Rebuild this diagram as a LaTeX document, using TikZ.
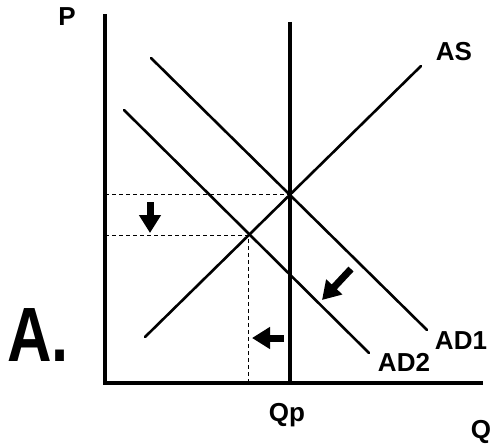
\documentclass[tikz,border=0pt]{standalone}
\usepackage{fontspec}
\setmainfont{Liberation Sans}
\usetikzlibrary{arrows.meta}
\begin{document}
\begin{tikzpicture}[x=1pt,y=-1pt,
  axis/.style={line width=4pt,line cap=rect},
  curve/.style={line width=2.6pt,line cap=round},
  guide/.style={line width=1pt,dash pattern=on 4pt off 3pt},
  shiftarrow/.style={line width=7pt,-{Triangle[width=21pt,length=18pt]}},
  lbl/.style={font=\fontsize{26}{26}\selectfont\bfseries,anchor=base,inner sep=0pt}]
\useasboundingbox (0,0) rectangle (495,444);
% axes
\coordinate (o) at (105,383);
\coordinate (ytop) at (105,16);
\coordinate (xend) at (481,383);
\draw[axis] (ytop) -- (o) -- (xend);
% potential output line
\coordinate (qtop) at (290,22);
\coordinate (qbot) at (290,383);
\draw[axis,line cap=butt] (qtop) -- (qbot);
% curves
\coordinate (as1) at (145,337);
\coordinate (as2) at (421,66);
\draw[curve] (as1) -- (as2);
\coordinate (ad11) at (151,58);
\coordinate (ad12) at (427,330);
\draw[curve] (ad11) -- (ad12);
\coordinate (ad21) at (124,110);
\coordinate (ad22) at (369,353);
\draw[curve] (ad21) -- (ad22);
% equilibria
\coordinate (e1) at (290,194);
\coordinate (e2) at (248,235);
\coordinate (p1) at (105,194);
\coordinate (p2) at (105,235);
\coordinate (q2) at (248,383);
\draw[guide] (p1) -- (e1);
\draw[guide] (p2) -- (e2) -- (q2);
% shift arrows
\coordinate (da1) at (150,202);
\coordinate (da2) at (150,233);
\draw[shiftarrow] (da1) -- (da2);
\coordinate (la1) at (284,338);
\coordinate (la2) at (252,338);
\draw[shiftarrow] (la1) -- (la2);
\coordinate (ga1) at (351,269);
\coordinate (ga2) at (322,300);
\draw[shiftarrow] (ga1) -- (ga2);
% labels
\node[lbl] (lP) at (67,26) {P};
\node[lbl] (lAS) at (454,60) {AS};
\node[lbl] (lAD1) at (461,349) {AD1};
\node[lbl] (lAD2) at (404,371) {AD2};
\node[lbl] (lQp) at (287,421) {Qp};
\node[lbl] (lQ) at (481,438) {Q};
\node[lbl,font=\fontsize{77}{77}\selectfont\bfseries,xscale=0.8] (lA) at (38,361) {A.};
\end{tikzpicture}
\end{document}
